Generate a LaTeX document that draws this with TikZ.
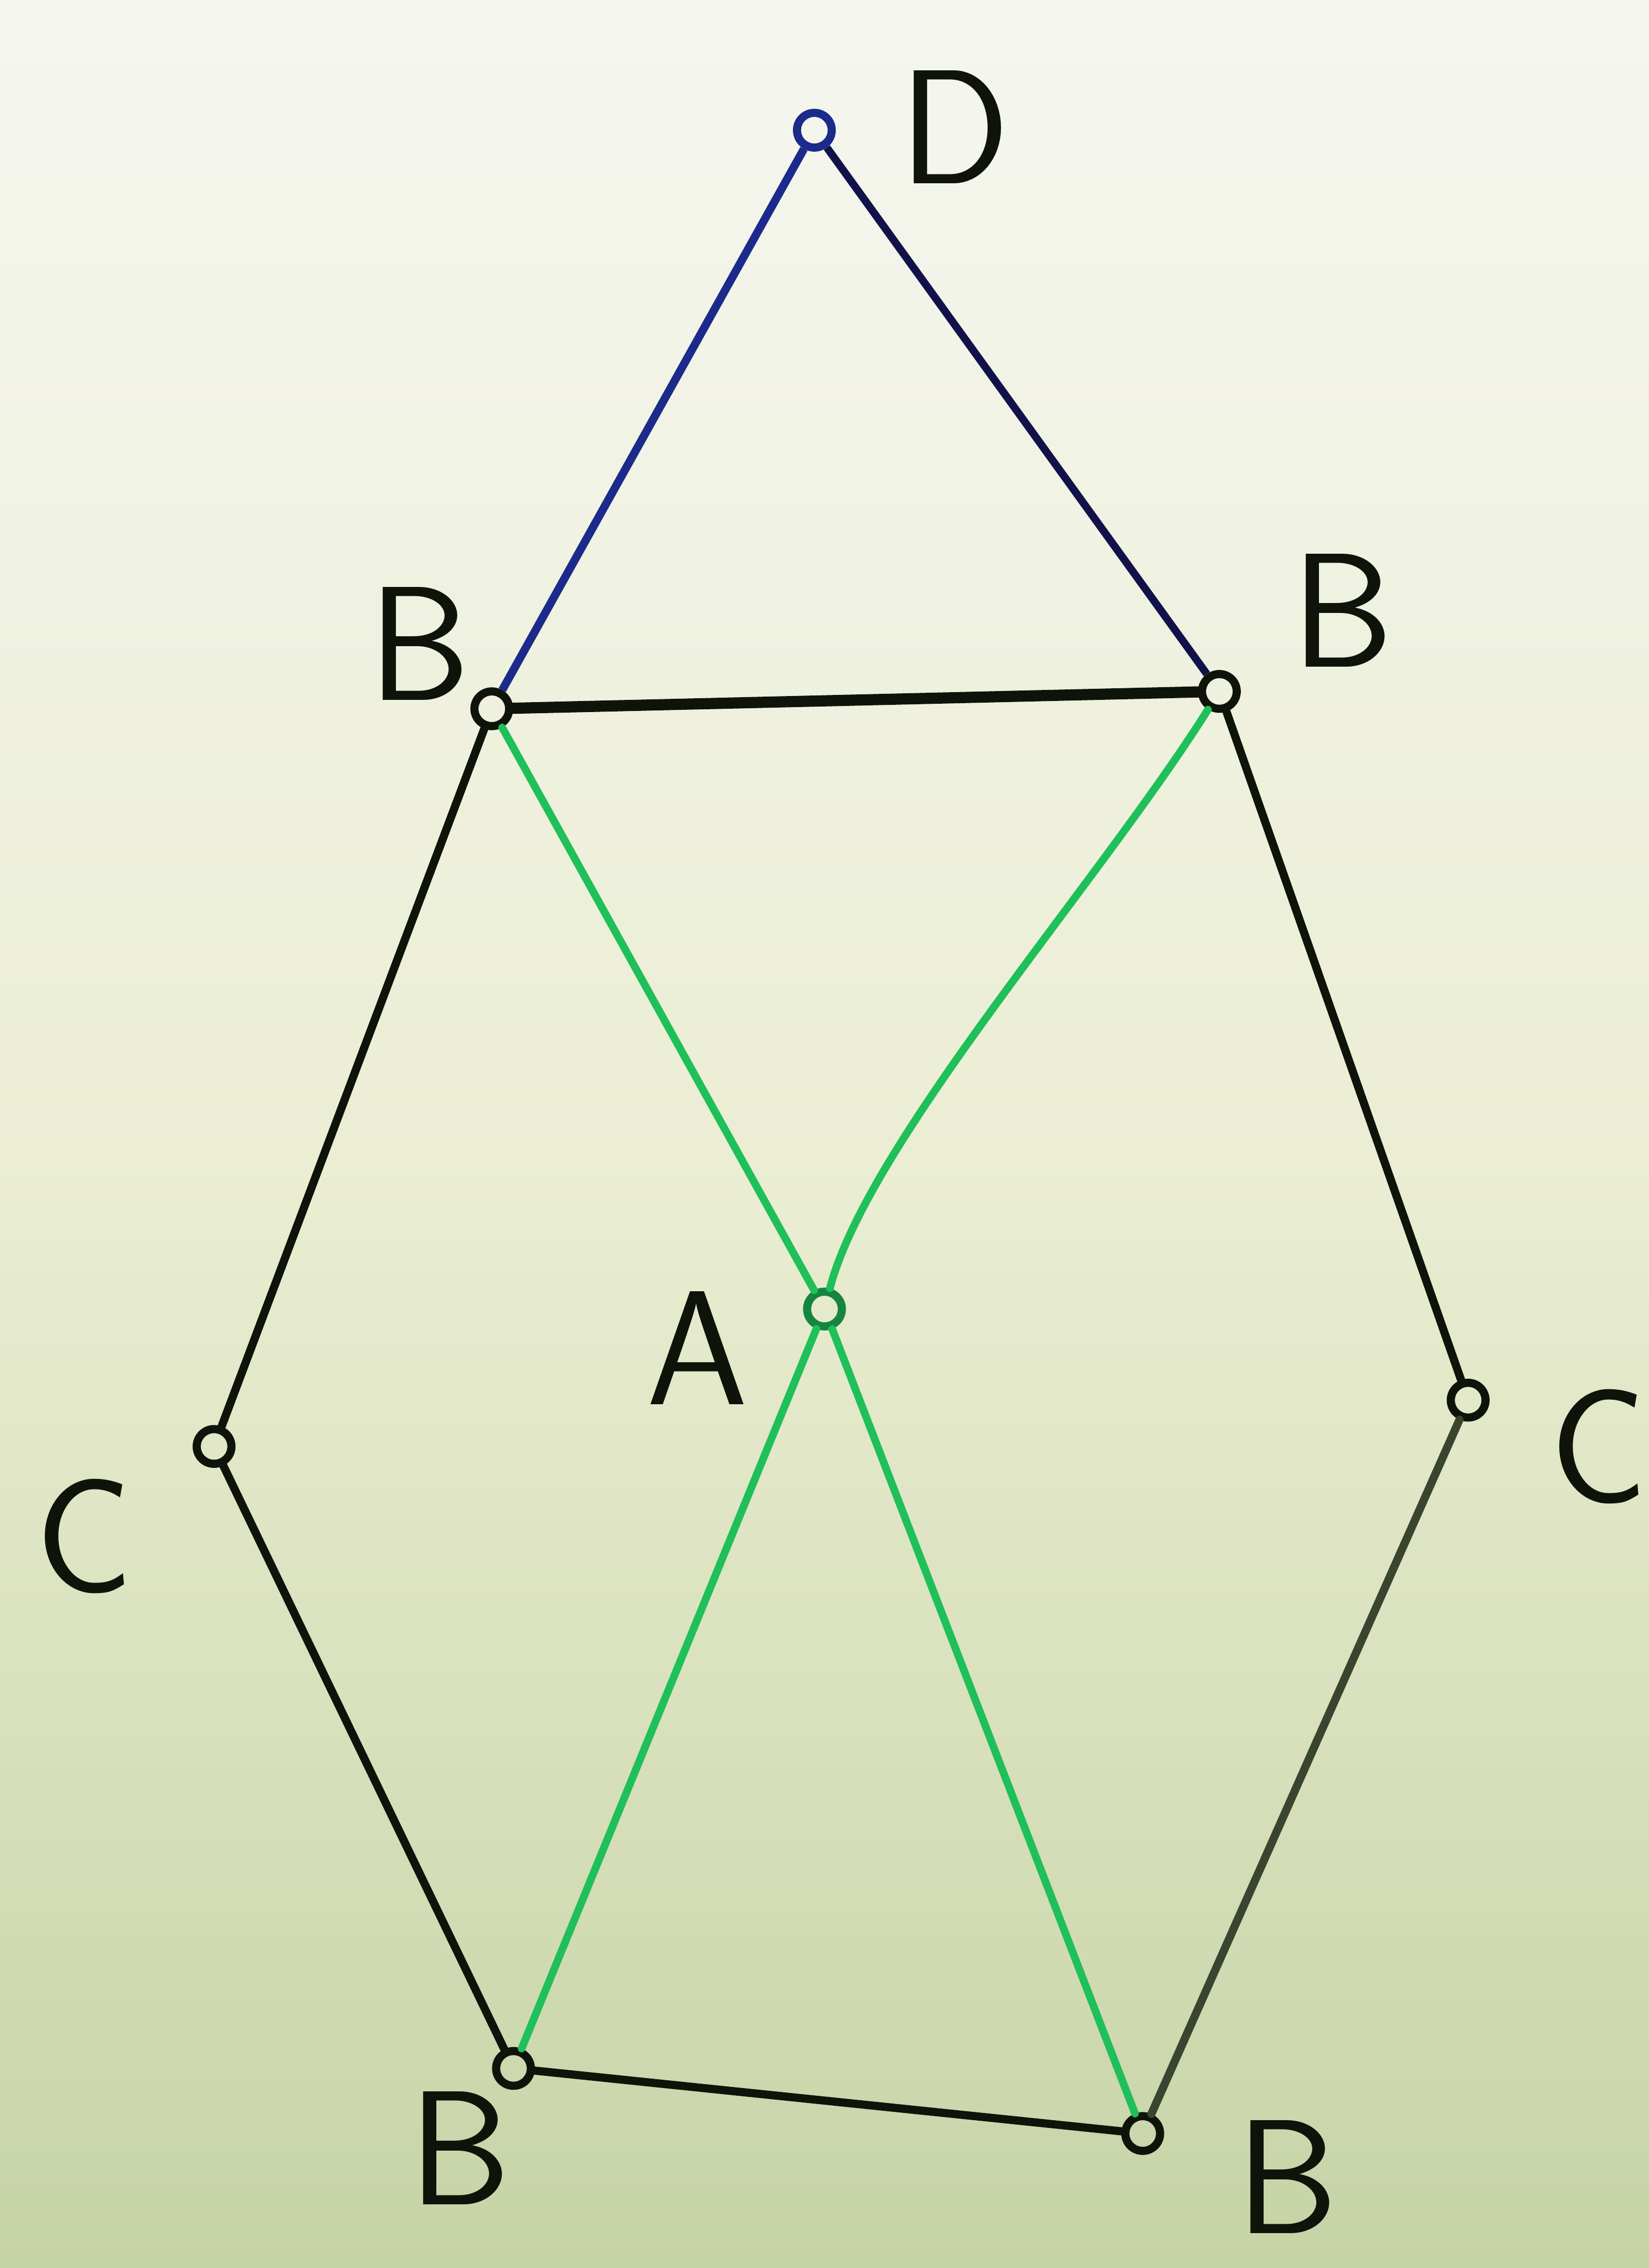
\documentclass[tikz,border=0pt]{standalone}
\usepackage{tikz}
\definecolor{bgtop}{HTML}{F5F6F0}
\definecolor{bgmid}{HTML}{EBEED3}
\definecolor{bgbot}{HTML}{C6D3A6}
\definecolor{ink}{HTML}{0E140A}
\definecolor{navy}{HTML}{12124A}
\definecolor{blueink}{HTML}{1C2A8C}
\definecolor{greenink}{HTML}{1FBF5A}
\definecolor{grayink}{HTML}{3A4530}
\tikzset{
  vtx/.style={circle, draw=ink, line width=1.6pt, minimum size=0.24cm, inner sep=0pt},
  lab/.style={font=\fontsize{32}{36}\selectfont\sffamily, text=ink, inner sep=0pt},
  blk/.style={draw=ink, line width=1.6pt, line cap=round},
  grn/.style={draw=greenink, line width=1.5pt, line cap=round},
}
\begin{document}
\begin{tikzpicture}[x=0.01cm,y=-0.01cm]
\useasboundingbox (0,0) rectangle (1140,1568);
\shade[top color=bgtop, bottom color=bgmid] (0,0) rectangle (1140,800);
\shade[top color=bgmid, bottom color=bgbot] (0,800) rectangle (1140,1568);
% vertices
\node[vtx, draw=blueink] (D) at (563,90) {};
\node[vtx] (B1) at (340,490) {};
\node[vtx] (B2) at (843,478) {};
\node[vtx, draw=greenink!70!black] (A) at (570,905) {};
\node[vtx] (C1) at (148,1000) {};
\node[vtx] (C2) at (1015,968) {};
\node[vtx] (B3) at (355,1430) {};
\node[vtx] (B4) at (790,1475) {};
% labels
\node[lab] (lD) at (660,88) {D};
\node[lab] (lB1) at (290,445) {B};
\node[lab] (lB2) at (928,422) {B};
\node[lab] (lA) at (482,932) {A};
\node[lab] (lC1) at (58,1062) {C};
\node[lab] (lC2) at (1105,1000) {C};
\node[lab] (lB3) at (318,1485) {B};
\node[lab] (lB4) at (890,1505) {B};
% edges
\draw[draw=blueink, line width=1.6pt] (D) -- (B1);
\draw[draw=navy, line width=1.5pt] (D) -- (B2);
\draw[blk, line width=2.2pt] (B1) -- (B2);
\draw[blk] (B1) -- (C1);
\draw[blk] (C1) -- (B3);
\draw[blk] (B3) -- (B4);
\draw[blk, draw=grayink] (B4) -- (C2);
\draw[blk] (C2) -- (B2);
\draw[grn] (B1) -- (A);
\draw[grn] (B2) .. controls (760,610) and (600,790) .. (A);
\draw[grn] (A) -- (B3);
\draw[grn] (A) -- (B4);
\end{tikzpicture}
\end{document}
